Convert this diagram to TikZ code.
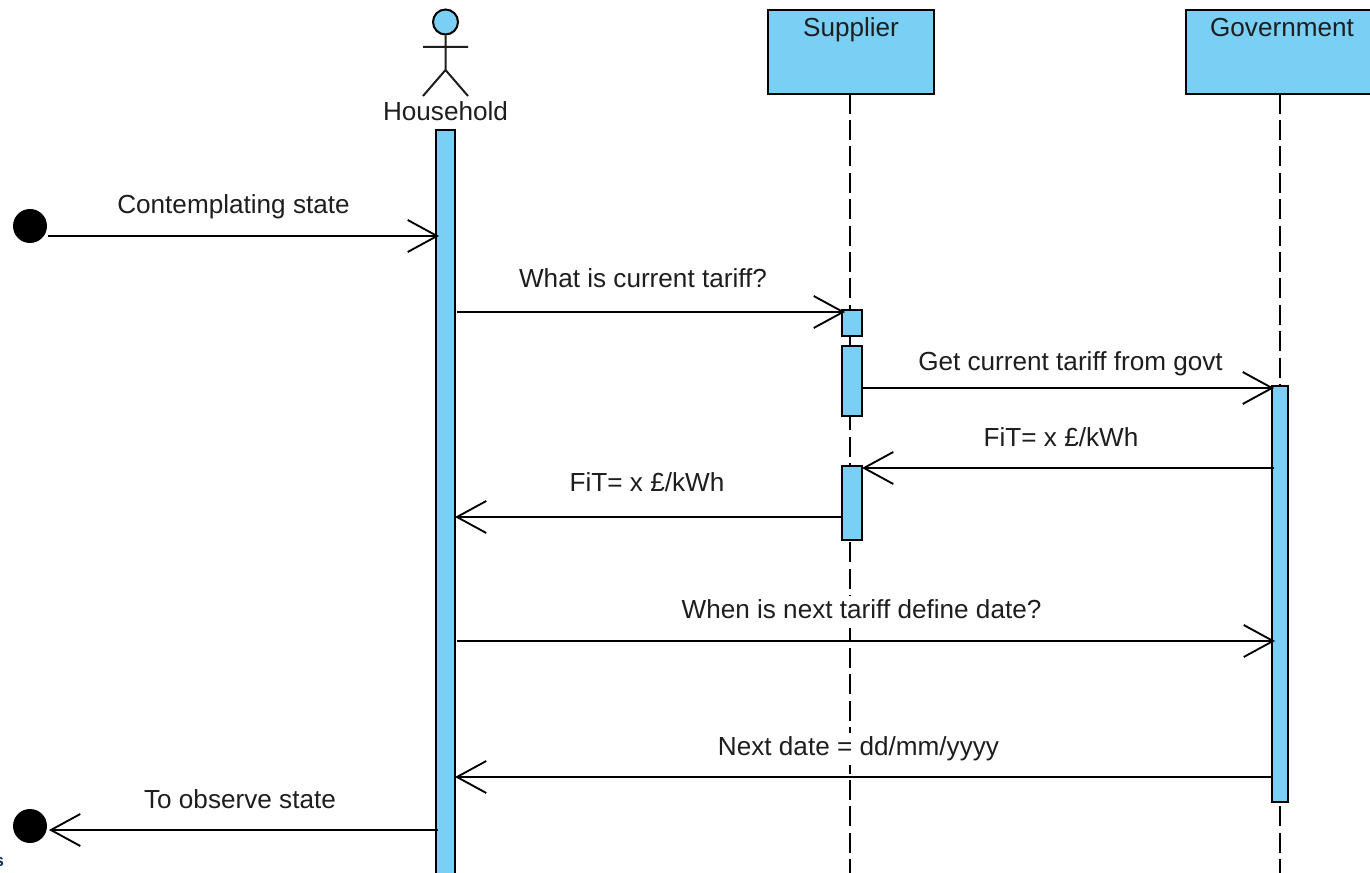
\documentclass[tikz,border=0pt]{standalone}
\usepackage{fontspec}
\setmainfont{Liberation Sans}
\usetikzlibrary{arrows.meta}
\definecolor{fillblue}{RGB}{122,207,245}
\definecolor{inkgray}{RGB}{30,30,30}
\definecolor{cutblue}{RGB}{20,50,90}
\tikzset{
  x=0.75pt,y=-0.75pt,
  lbl/.style={font=\fontsize{19.6pt}{22pt}\selectfont,text=inkgray,inner sep=0pt,anchor=base},
  msglbl/.style={lbl,fill=white,text height=16.5pt,text depth=7.5pt},
  headbox/.style={draw=black,fill=fillblue,line width=1.5pt,anchor=north west,inner sep=0pt,minimum width=#1*0.75pt,minimum height=84*0.75pt},
  barbox/.style={draw=black,fill=fillblue,line width=1.5pt,inner sep=0pt,anchor=north west},
  lifeline/.style={draw=black,line width=1.5pt,dash pattern=on 15pt off 4.8pt},
  msg/.style={draw=black,line width=1.5pt,-{Straight Barb[length=22pt,width=24pt,line width=1.4pt]}},
  blob/.style={circle,fill=black,draw=none,minimum size=34*0.75pt,inner sep=0pt},
}
\begin{document}
\begin{tikzpicture}
\useasboundingbox (0,0) rectangle (1370,873);
\clip (0,0) rectangle (1370,873);
\fill[white] (0,0) rectangle (1370,873);
% lifelines
\coordinate (supEnd) at (849.7,873);
\coordinate (govEnd) at (1279.8,873);
\coordinate (supTop) at (849.7,93.6);
\coordinate (govTop) at (1279.8,93.6);
\draw[lifeline] (supTop) -- (supEnd);
\draw[lifeline] (govTop) -- (govEnd);
\node[headbox=166] (sup) at (767,9) {};
\node[headbox=190] (gov) at (1185,9) {};
\node[lbl] (supL) at (851,37) {Supplier};
\node[lbl] (govL) at (1282,37) {Government};
% actor
\node[circle,draw=black,fill=fillblue,line width=1.5pt,minimum size=25*0.75pt,inner sep=0pt] (head) at (445.5,22) {};
\coordinate (hip) at (445.5,70);
\coordinate (armL) at (423,47);
\coordinate (armR) at (468,47);
\coordinate (legL) at (423,96);
\coordinate (legR) at (468,96);
\draw[line width=1.5pt,draw=inkgray] (head) -- (hip) (armL) -- (armR) (legL) -- (hip) -- (legR);
\node[lbl] (hhL) at (445.5,121) {Household};
% message labels
\node[msglbl] (t1) at (233.5,214) {Contemplating state};
\node[msglbl] (t2) at (643,288) {What is current tariff?};
\node[msglbl] (t3) at (1070.5,370) {Get current tariff from govt};
\node[msglbl] (t4) at (1061,446) {FiT= x £/kWh};
\node[msglbl] (t5) at (647,491) {FiT= x £/kWh};
\node[msglbl] (t6) at (861.5,618) {When is next tariff define date?};
\node[msglbl] (t7) at (858.5,755) {Next date = dd/mm/yyyy};
\node[msglbl] (t8) at (240,808) {To observe state};
% activation bars
\node[barbox,minimum width=19*0.75pt,minimum height=750*0.75pt] (hbar) at (435,129) {};
\node[barbox,minimum width=20*0.75pt,minimum height=26*0.75pt] (s1) at (841,309) {};
\node[barbox,minimum width=20*0.75pt,minimum height=70*0.75pt] (s2) at (841,345) {};
\node[barbox,minimum width=20*0.75pt,minimum height=74*0.75pt] (s3) at (841,465) {};
\node[barbox,minimum width=16*0.75pt,minimum height=416*0.75pt] (gbar) at (1271,385) {};
% terminals
\node[blob] (start) at (30,226) {};
\node[blob] (stop) at (30,826) {};
% message ends
\coordinate (a1) at (48,236);
\coordinate (b1) at (439,236);
\coordinate (a2) at (457,312);
\coordinate (b2) at (845,312);
\coordinate (a3) at (863,388);
\coordinate (b3) at (1274,388);
\coordinate (a4) at (1274,468);
\coordinate (b4) at (862,468);
\coordinate (a5) at (841,517);
\coordinate (b5) at (455,517);
\coordinate (a6) at (457,641);
\coordinate (b6) at (1275,641);
\coordinate (a7) at (1272,777);
\coordinate (b7) at (455,777);
\coordinate (a8) at (438,830);
\coordinate (b8) at (49,830);
\draw[msg] (a1) -- (b1);
\draw[msg] (a2) -- (b2);
\draw[msg] (a3) -- (b3);
\draw[msg] (a4) -- (b4);
\draw[msg] (a5) -- (b5);
\draw[msg] (a6) -- (b6);
\draw[msg] (a7) -- (b7);
\draw[msg] (a8) -- (b8);
\node[font=\fontsize{13pt}{15pt}\selectfont\bfseries,text=cutblue,inner sep=0pt,anchor=base west] (frag) at (-6,866) {s};
\end{tikzpicture}
\end{document}
